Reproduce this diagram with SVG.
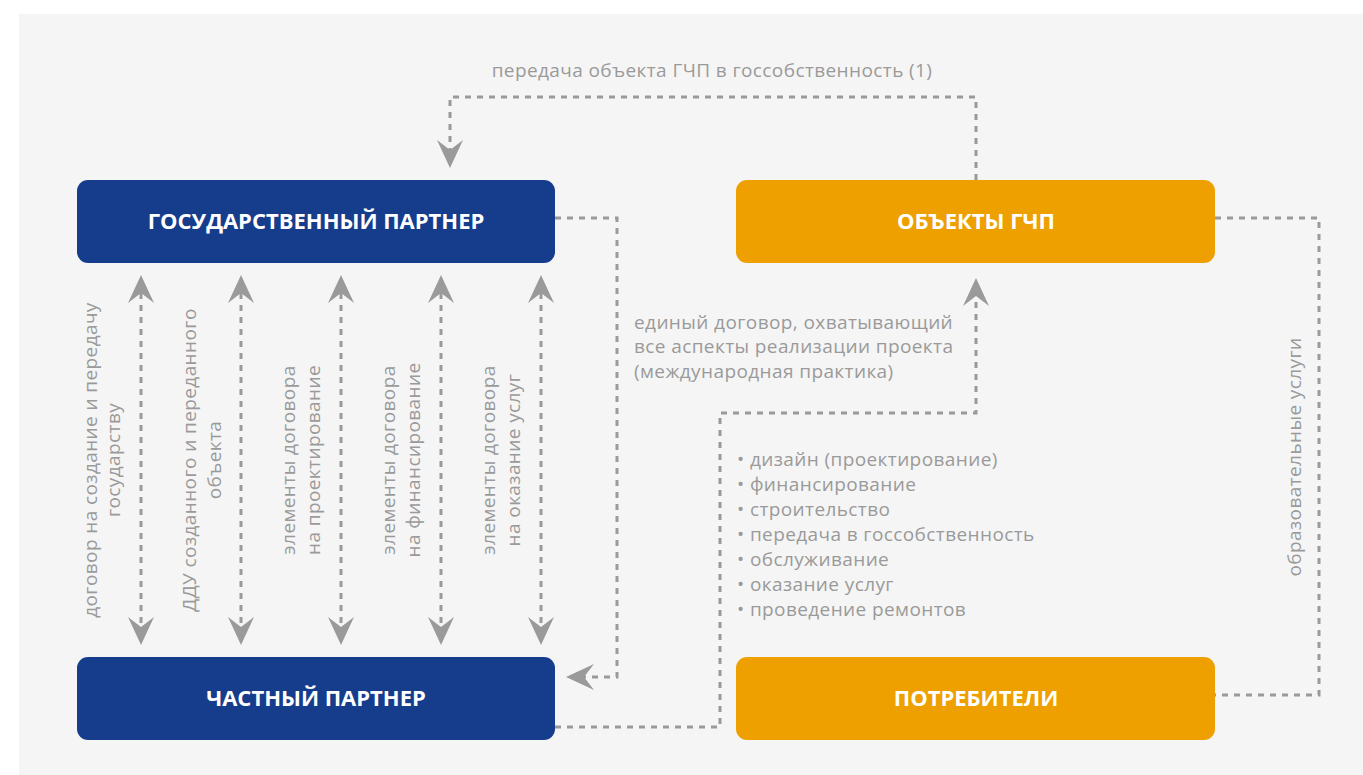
<svg xmlns="http://www.w3.org/2000/svg" width="1363" height="775" viewBox="0 0 1363 775">
<style>
.bg{fill:#f5f5f5}
.blue{fill:#163d8c}
.orange{fill:#eea000}
.title{font-family:"Open Sans","Noto Sans",sans-serif;font-weight:bold;font-size:22px;fill:#ffffff;text-anchor:middle}
.lbl{font-family:"Open Sans","Noto Sans",sans-serif;font-size:19px;letter-spacing:0.4px;fill:#9a9a9a}
.mid{text-anchor:middle}
.conn{fill:none;stroke:#9a9a9a;stroke-width:3;stroke-dasharray:6 6}
</style>
<defs>
<marker id="ah" viewBox="-12 -14 32 28" refX="0" refY="0" markerWidth="32" markerHeight="28" markerUnits="userSpaceOnUse" orient="auto-start-reverse">
<path d="M18,0 L-10,-13 L0,0 L-10,13 Z" fill="#9a9a9a"/>
</marker>
</defs>
<rect class="bg" x="19" y="14" width="1344" height="761"/>
<g id="connectors">
<path class="conn" d="M976,180 V97 H450 V150" marker-end="url(#ah)"/>
<path class="conn" d="M555,218 H617 V677 H584" marker-end="url(#ah)"/>
<path class="conn" d="M555,727 H720 V413 H976 V296" marker-end="url(#ah)"/>
<path class="conn" d="M1215,218 H1319 V695 H1215"/>
<path class="conn" d="M141,293 V627" marker-start="url(#ah)" marker-end="url(#ah)"/>
<path class="conn" d="M241,293 V627" marker-start="url(#ah)" marker-end="url(#ah)"/>
<path class="conn" d="M341,293 V627" marker-start="url(#ah)" marker-end="url(#ah)"/>
<path class="conn" d="M441,293 V627" marker-start="url(#ah)" marker-end="url(#ah)"/>
<path class="conn" d="M541,293 V627" marker-start="url(#ah)" marker-end="url(#ah)"/>
</g>
<g id="labels">
<text class="lbl mid" x="712" y="77">передача объекта ГЧП в госсобственность (1)</text>
<text class="lbl" x="634" y="329">единый договор, охватывающий</text>
<text class="lbl" x="634" y="353">все аспекты реализации проекта</text>
<text class="lbl" x="634" y="378">(международная практика)</text>
<text class="lbl" x="737" y="466">• дизайн (проектирование)</text>
<text class="lbl" x="737" y="491">• финансирование</text>
<text class="lbl" x="737" y="516">• строительство</text>
<text class="lbl" x="737" y="541">• передача в госсобственность</text>
<text class="lbl" x="737" y="566">• обслуживание</text>
<text class="lbl" x="737" y="591">• оказание услуг</text>
<text class="lbl" x="737" y="616">• проведение ремонтов</text>
<text class="lbl mid" transform="translate(1301,457) rotate(-90)">образовательные услуги</text>
<text class="lbl mid" transform="translate(97,460) rotate(-90)">договор на создание и передачу</text>
<text class="lbl mid" transform="translate(120,460) rotate(-90)">государству</text>
<text class="lbl mid" transform="translate(196,460) rotate(-90)">ДДУ созданного и переданного</text>
<text class="lbl mid" transform="translate(221,460) rotate(-90)">объекта</text>
<text class="lbl mid" transform="translate(295,460) rotate(-90)">элементы договора</text>
<text class="lbl mid" transform="translate(320,460) rotate(-90)">на проектирование</text>
<text class="lbl mid" transform="translate(395,460) rotate(-90)">элементы договора</text>
<text class="lbl mid" transform="translate(420,460) rotate(-90)">на финансирование</text>
<text class="lbl mid" transform="translate(495,460) rotate(-90)">элементы договора</text>
<text class="lbl mid" transform="translate(520,460) rotate(-90)">на оказание услуг</text>
</g>
<g id="gov">
<rect class="blue" x="77" y="180" width="478" height="83" rx="11"/>
<text class="title" x="316" y="229">ГОСУДАРСТВЕННЫЙ ПАРТНЕР</text>
</g>
<g id="private">
<rect class="blue" x="77" y="657" width="478" height="83" rx="11"/>
<text class="title" x="316" y="706">ЧАСТНЫЙ ПАРТНЕР</text>
</g>
<g id="objects">
<rect class="orange" x="736" y="180" width="479" height="83" rx="11"/>
<text class="title" x="976" y="229">ОБЪЕКТЫ ГЧП</text>
</g>
<g id="consumers">
<rect class="orange" x="736" y="657" width="479" height="83" rx="11"/>
<text class="title" x="976" y="706">ПОТРЕБИТЕЛИ</text>
</g>
</svg>
